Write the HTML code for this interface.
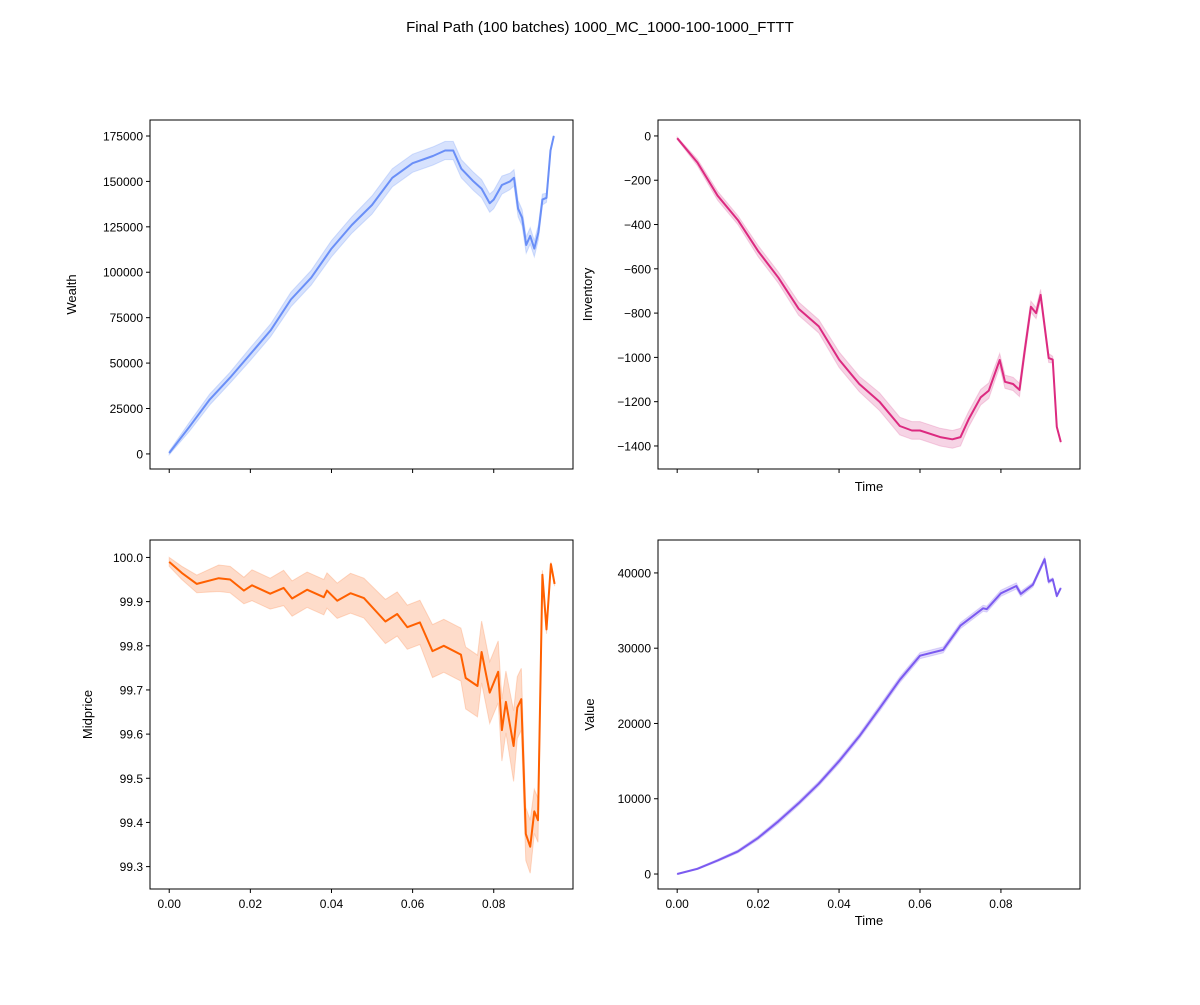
<!DOCTYPE html>
<html><head><meta charset="utf-8"><style>
body{margin:0;background:#fff;}
svg text{font-family:"Liberation Sans","DejaVu Sans",sans-serif;fill:#000;}
</style></head><body>
<svg id="fig" width="1200" height="1000" xmlns="http://www.w3.org/2000/svg">
<rect width="1200" height="1000" fill="#fff"/>
<text x="600" y="32" font-size="15" text-anchor="middle">Final Path (100 batches) 1000_MC_1000-100-1000_FTTT</text>
</svg>
<script>
// ---- data ----
const xTicks = [0, 0.02, 0.04, 0.06, 0.08];
const xTickLabels = ["0.00", "0.02", "0.04", "0.06", "0.08"];

const wealthT = [0,0.005,0.01,0.015,0.02,0.025,0.03,0.035,0.04,0.045,0.05,0.055,0.06,0.065,0.068,0.07,0.072,0.075,0.077,0.079,0.08,0.082,0.084,0.085,0.086,0.087,0.088,0.089,0.09,0.091,0.092,0.093,0.094,0.0948];
const wealthV = [500,15000,30000,42000,55000,68000,85000,97000,113000,126000,137000,152000,160000,164000,167000,167000,157000,150000,146000,138000,140000,148000,150000,152000,135000,130000,115000,120000,113000,122000,140000,141000,167000,175000];
const wealthErr = [1000,2500,3000,3000,3500,3500,4000,4000,4500,4500,5000,5000,5000,5000,5000,5000,5000,5000,5000,5000,5000,5000,4500,4500,4500,4500,4500,4500,4500,4000,3000,2500,1000,500];
const wealthTicks = [0,25000,50000,75000,100000,125000,150000,175000];

const invT = [0,0.005,0.01,0.015,0.02,0.025,0.03,0.035,0.04,0.045,0.05,0.055,0.058,0.06,0.065,0.068,0.07,0.072,0.075,0.077,0.0797,0.081,0.083,0.0846,0.0858,0.0874,0.0887,0.0898,0.0918,0.0928,0.0938,0.0948];
const invV = [-10,-120,-270,-380,-520,-640,-780,-860,-1010,-1120,-1200,-1310,-1330,-1330,-1360,-1370,-1360,-1280,-1180,-1150,-1012,-1110,-1120,-1147,-980,-771,-800,-718,-1003,-1010,-1314,-1382];
const invErr = [5,15,20,20,25,25,30,30,35,35,40,40,40,40,40,40,40,35,35,35,30,30,30,30,30,25,25,25,20,15,5,5];
const invTicks = [0,-200,-400,-600,-800,-1000,-1200,-1400];

const midT = [0,0.0031,0.0068,0.0122,0.015,0.0184,0.0204,0.0249,0.0282,0.0303,0.034,0.0381,0.0389,0.0414,0.0447,0.048,0.0533,0.0562,0.0587,0.0618,0.0649,0.0677,0.0719,0.0731,0.076,0.077,0.079,0.0811,0.082,0.083,0.0849,0.0858,0.0868,0.0879,0.089,0.09,0.0909,0.092,0.093,0.0941,0.095];
const midV = [99.99,99.965,99.94,99.953,99.95,99.925,99.937,99.918,99.931,99.907,99.927,99.91,99.925,99.902,99.919,99.908,99.855,99.872,99.842,99.853,99.788,99.80,99.78,99.727,99.709,99.786,99.694,99.741,99.609,99.673,99.573,99.66,99.679,99.374,99.345,99.425,99.405,99.961,99.837,99.985,99.94];
const midErr = [0.01,0.015,0.02,0.03,0.03,0.03,0.035,0.035,0.04,0.04,0.04,0.04,0.04,0.04,0.045,0.045,0.05,0.05,0.05,0.05,0.06,0.06,0.06,0.07,0.07,0.07,0.07,0.07,0.07,0.07,0.08,0.07,0.07,0.06,0.06,0.05,0.05,0.01,0.01,0.005,0.005];
const midTicks = [99.3,99.4,99.5,99.6,99.7,99.8,99.9,100.0];

const valT = [0,0.005,0.01,0.015,0.02,0.025,0.03,0.035,0.04,0.045,0.05,0.055,0.06,0.0657,0.07,0.0756,0.0765,0.08,0.0838,0.0849,0.0879,0.0908,0.0918,0.0928,0.0938,0.0948];
const valV = [0,700,1800,3000,4800,7000,9400,12000,15000,18300,22000,25800,29000,29770,33000,35300,35200,37300,38270,37210,38430,41820,38840,39150,36940,37990];
const valErr = [50,100,150,200,250,300,300,300,350,350,400,400,400,400,400,400,400,400,400,350,300,300,250,200,150,100];
const valTicks = [0,10000,20000,30000,40000];

// ---- drawing ----
const NS = "http://www.w3.org/2000/svg";
const svg = document.getElementById("fig");
function mk(tag, attrs, parent){
  const e = document.createElementNS(NS, tag);
  for (const k in attrs) e.setAttribute(k, attrs[k]);
  (parent || svg).appendChild(e);
  return e;
}
function panel(cfg){
  const {x0,x1,y0,y1,ymin,ymax,T,V,E,yticks,yfmt,color,band,ylabel,ylabX,xlabel,xlabY,xticklabels,name} = cfg;
  const g = mk("g", {});
  
  
  const xmin = -0.00474, xmax = 0.09954;
  const sx = v => x0 + (v - xmin) / (xmax - xmin) * (x1 - x0);
  const sy = v => y1 - (v - ymin) / (ymax - ymin) * (y1 - y0);
  let d = "";
  T.forEach((t,i)=>{ d += (i?"L":"M") + sx(t).toFixed(1) + "," + sy(V[i]+E[i]).toFixed(1); });
  for (let i = T.length-1; i >= 0; i--) d += "L" + sx(T[i]).toFixed(1) + "," + sy(V[i]-E[i]).toFixed(1);
  const b = mk("path", {d: d + "Z", fill: band, "fill-opacity": "0.3", stroke: band, "stroke-opacity": "0.3"}, g);
  
  
  const pts = T.map((t,i)=> sx(t).toFixed(1) + "," + sy(V[i]).toFixed(1)).join(" ");
  const l = mk("polyline", {points: pts, fill: "none", stroke: color, "stroke-width": "2", "stroke-linejoin": "round"}, g);
  
  
  const f = mk("rect", {x: x0, y: y0, width: x1-x0, height: y1-y0, fill: "none", stroke: "#000", "stroke-width": "1"}, g);
  
  
  xTicks.forEach((t,i)=>{
    const x = sx(t);
    mk("line", {x1: x, x2: x, y1: y1, y2: y1+4, stroke: "#000"}, g);
    if (xticklabels){
      const tx = mk("text", {x: x, y: y1+19, "font-size": "12", "text-anchor": "middle"}, g);
      tx.textContent = xTickLabels[i];
      
      
    }
  });
  yticks.forEach(v=>{
    const y = sy(v);
    mk("line", {x1: x0-4, x2: x0, y1: y, y2: y, stroke: "#000"}, g);
    const tx = mk("text", {x: x0-7, y: y+4.5, "font-size": "12", "text-anchor": "end"}, g);
    tx.textContent = yfmt(v);
    
    
  });
  const yl = mk("text", {x: ylabX, y: (y0+y1)/2, "font-size": "13", "text-anchor": "middle", transform: `rotate(-90 ${ylabX} ${(y0+y1)/2})`}, g);
  yl.textContent = ylabel;
  
  
  if (xlabel){
    const xl = mk("text", {x: (x0+x1)/2, y: y1+xlabY, "font-size": "13", "text-anchor": "middle"}, g);
    xl.textContent = xlabel;
    
    
  }
}
const minus = s => s.replace("-", "\u2212");
panel({name:"wealth",x0:150,x1:573,y0:120,y1:469,ymin:-8300,ymax:183800,T:wealthT,V:wealthV,E:wealthErr,yticks:wealthTicks,yfmt:v=>String(v),color:"#6a8ff7",band:"#7a9ef8",ylabel:"Wealth",ylabX:76,xlabel:null,xlabY:0,xticklabels:false});
panel({name:"inventory",x0:658,x1:1080,y0:120,y1:469,ymin:-1504,ymax:72,T:invT,V:invV,E:invErr,yticks:invTicks,yfmt:v=>minus(String(v)),color:"#dc2a80",band:"#e070a8",ylabel:"Inventory",ylabX:592,xlabel:"Time",xlabY:22,xticklabels:false});
panel({name:"midprice",x0:150,x1:573,y0:540,y1:889,ymin:99.2493,ymax:100.0395,T:midT,V:midV,E:midErr,yticks:midTicks,yfmt:v=>v.toFixed(1),color:"#ff6000",band:"#fb8c50",ylabel:"Midprice",ylabX:92,xlabel:null,xlabY:0,xticklabels:true});
panel({name:"value",x0:658,x1:1080,y0:540,y1:889,ymin:-1990,ymax:44375,T:valT,V:valV,E:valErr,yticks:valTicks,yfmt:v=>String(v),color:"#7b5af0",band:"#9a86f2",ylabel:"Value",ylabX:594,xlabel:"Time",xlabY:36,xticklabels:true});
</script>
</body></html>
